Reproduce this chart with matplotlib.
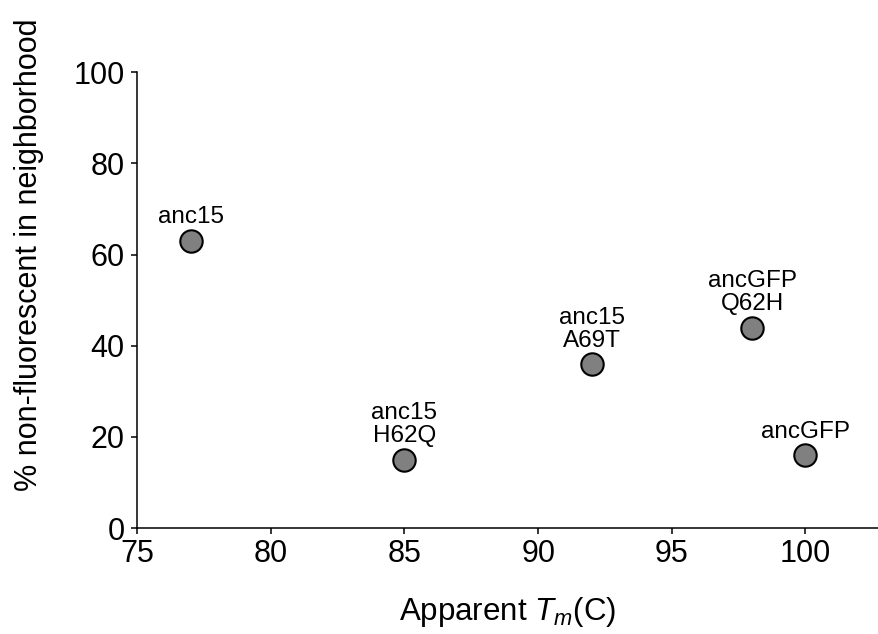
import matplotlib
matplotlib.use("Agg")
import matplotlib.pyplot as plt

plt.rcParams['font.family'] = ['Liberation Sans', 'DejaVu Sans']
plt.rcParams['mathtext.fontset'] = 'custom'
plt.rcParams['mathtext.rm'] = 'Liberation Sans'
plt.rcParams['mathtext.it'] = 'Liberation Sans:italic'

# data
names = ["anc15", "anc15\nH62Q", "anc15\nA69T", "ancGFP\nQ62H", "ancGFP"]
tm = [77, 85, 92, 98, 100]
pct = [63, 15, 36, 44, 16]
x_ticks = [75, 80, 85, 90, 95, 100]
y_ticks = [0, 20, 40, 60, 80, 100]

fig = plt.figure(figsize=(8.79, 6.34), dpi=100)
ax = fig.add_axes([0.156, 0.167, 0.844, 0.719])

ax.scatter(tm, pct, s=260, c="#808080", edgecolors="black", linewidths=1.5, zorder=3, clip_on=False)
for n, x, y in zip(names, tm, pct):
    ax.annotate(n, (x, y), xytext=(0, 9), textcoords="offset points",
                ha="center", va="bottom", fontsize=17.5, linespacing=1.05)

ax.set_xlim(75, 102.75)
ax.set_ylim(0, 100)
ax.set_xticks(x_ticks)
ax.set_yticks(y_ticks)
ax.spines["top"].set_visible(False)
ax.spines["right"].set_visible(False)
for s in ["left", "bottom"]:
    ax.spines[s].set_linewidth(1.1)
ax.tick_params(axis="both", labelsize=22, width=1.1, length=4, direction="out")
ax.tick_params(axis="y", pad=5)
ax.set_xlabel(r"Apparent $\mathit{T_m}$(C)", fontsize=22.5, labelpad=19)
ax.set_ylabel("% non-fluorescent in neighborhood", fontsize=22)
ax.yaxis.set_label_coords(-0.125, 0.6)

plt.savefig("out.png", dpi=100)
